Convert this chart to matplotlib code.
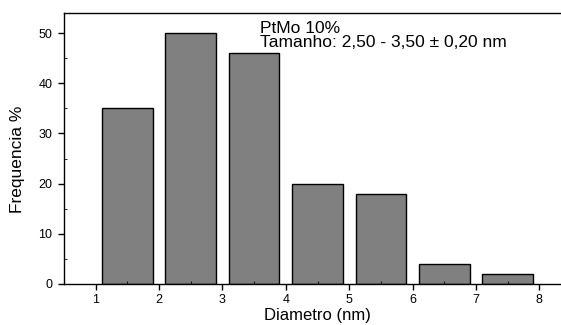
import numpy as np
import matplotlib.pyplot as plt

plt.rcParams["font.family"] = ["Liberation Sans", "DejaVu Sans"]

# histogram of particle size
diametro = [1.5, 2.5, 3.5, 4.5, 5.5, 6.5, 7.5]
frequencia = [35, 50, 46, 20, 18, 4, 2]
x_ticks = [1, 2, 3, 4, 5, 6, 7, 8]
y_ticks = [0, 10, 20, 30, 40, 50]

fig = plt.figure(figsize=(5.61, 3.25), dpi=100)
ax = fig.add_axes([64 / 561, 1 - 284 / 325, (571 - 64) / 561, (284 - 13) / 325])

ax.bar(diametro, frequencia, width=0.8, color="#808080", edgecolor="black", linewidth=1.0)

ax.set_xlim(0.5, 8.5)
ax.set_ylim(0, 54)
ax.set_xticks(x_ticks)
ax.set_yticks(y_ticks)
ax.set_xticks(np.arange(1.5, 8.5, 1), minor=True)
ax.set_yticks(np.arange(5, 55, 10), minor=True)

ax.tick_params(which="major", direction="out", length=4.5, width=1, labelsize=9)
ax.tick_params(which="minor", direction="in", length=2, width=0.6)
ax.tick_params(axis="x", pad=2.5)
ax.tick_params(axis="y", pad=4)

for s in ax.spines.values():
    s.set_linewidth(1.0)

ax.set_xlabel("Diametro (nm)", fontsize=12)
ax.set_ylabel("Frequencia %", fontsize=12.5)
ax.xaxis.set_label_coords(0.5, -0.088)
ax.yaxis.set_label_coords(-0.076, 0.46)

ax.text(3.6, 52.4, "PtMo 10%\nTamanho: 2,50 - 3,50 \u00b1 0,20 nm",
        fontsize=12.5, va="top", ha="left", linespacing=0.95)

fig.savefig("out.png", dpi=100)
